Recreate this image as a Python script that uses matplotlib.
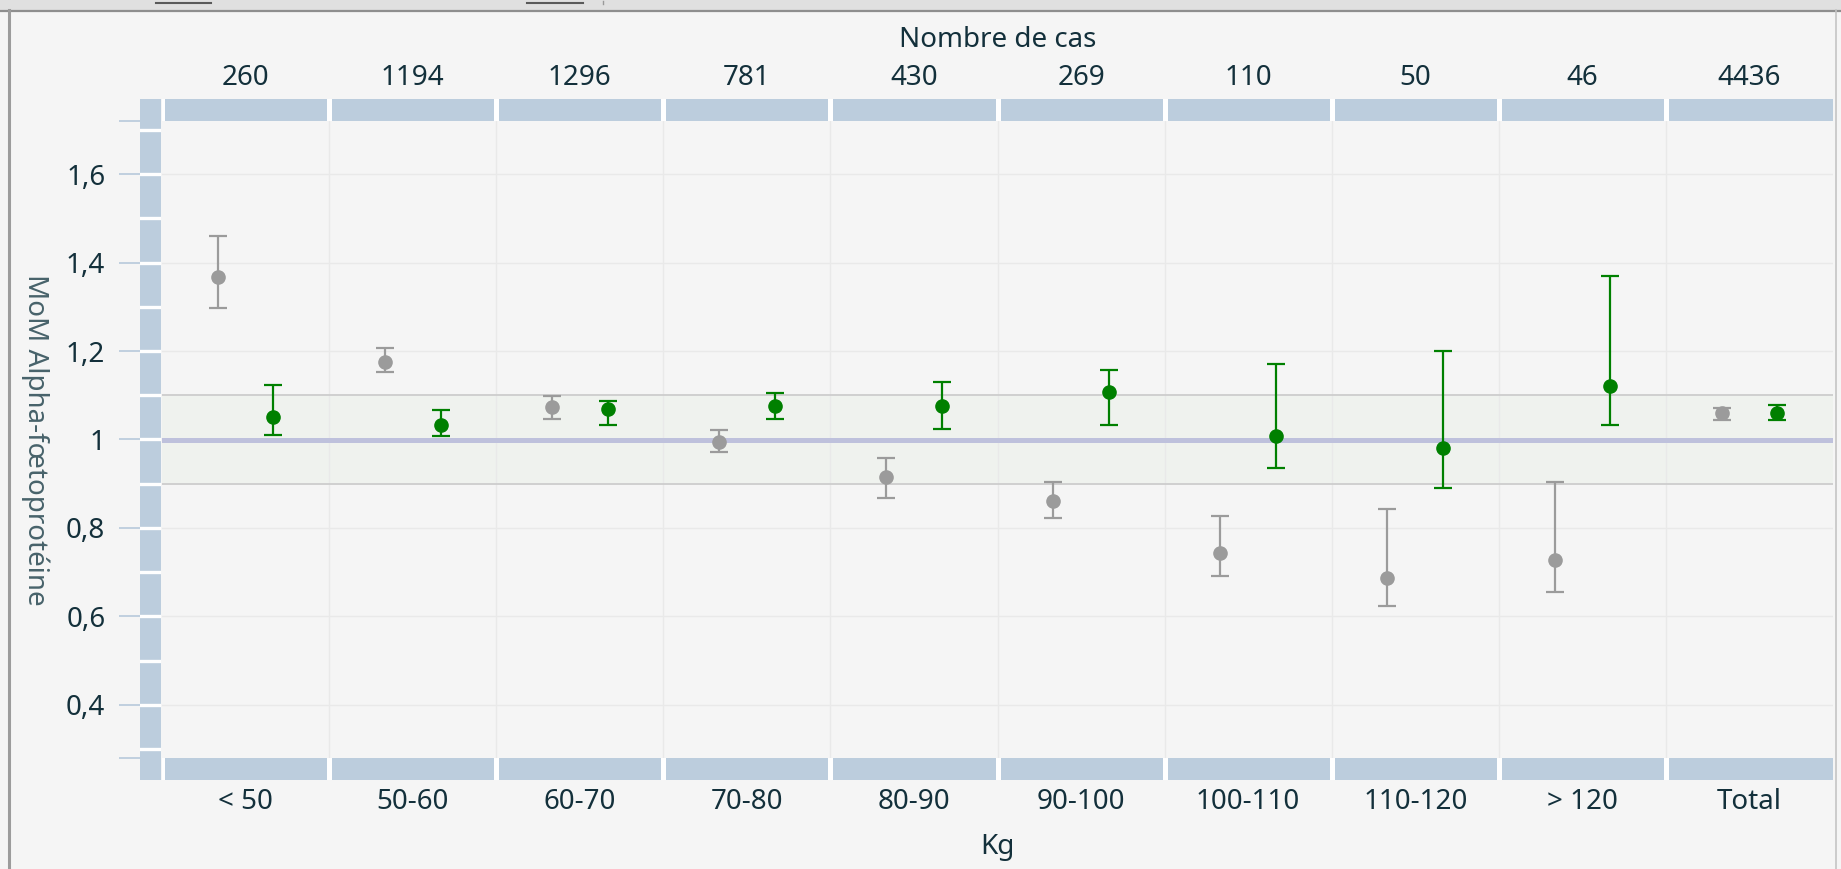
import matplotlib
matplotlib.use("Agg")
import matplotlib.pyplot as plt
from matplotlib.ticker import FuncFormatter, FixedLocator
from matplotlib.patches import Rectangle
from matplotlib.lines import Line2D

# --- data ---
categories = ["< 50", "50-60", "60-70", "70-80", "80-90", "90-100",
              "100-110", "110-120", "> 120", "Total"]
case_counts = ["260", "1194", "1296", "781", "430", "269", "110", "50", "46", "4436"]

gray_mid = [1.367, 1.176, 1.074, 0.995, 0.916, 0.862, 0.743, 0.687, 0.727, 1.059]
gray_low = [1.298, 1.153, 1.047, 0.972, 0.867, 0.822, 0.692, 0.624, 0.656, 1.045]
gray_high = [1.461, 1.207, 1.098, 1.021, 0.958, 0.903, 0.828, 0.843, 0.904, 1.072]

green_mid = [1.051, 1.032, 1.068, 1.076, 1.075, 1.108, 1.007, 0.980, 1.121, 1.060]
green_low = [1.011, 1.008, 1.032, 1.047, 1.024, 1.032, 0.936, 0.891, 1.033, 1.044]
green_high = [1.124, 1.066, 1.087, 1.105, 1.129, 1.156, 1.171, 1.201, 1.370, 1.077]

y_ticks = [0.4, 0.6, 0.8, 1.0, 1.2, 1.4, 1.6]
y_limits = (0.28, 1.72)
band_lo, band_hi, ref_value = 0.9, 1.1, 1.0

# --- style ---
BG = "#f5f5f5"
BAND = "#bccddd"
TEXT = "#13303b"
GRAY = "#9b9b9b"
GREEN = "#008000"
FONT = 20

plt.rcParams["font.family"] = ["Noto Sans", "DejaVu Sans"]

W, H = 1841, 869
fig = plt.figure(figsize=(W / 100, H / 100), dpi=100, facecolor=BG)


def px_axes(x0, y0, x1, y1):
    # add axes from pixel box (top-left origin)
    return fig.add_axes([x0 / W, 1 - y1 / H, (x1 - x0) / W, (y1 - y0) / H])


def px_line(x0, y0, x1, y1, **kw):
    fig.lines.append(Line2D([x0 / W, x1 / W], [1 - y0 / H, 1 - y1 / H],
                            transform=fig.transFigure, **kw))


def comma(v, pos=None):
    return f"{v:g}".replace(".", ",")


# window frame remnants around the chart
fig.patches.append(Rectangle((0, 1 - 10 / H), 1, 10 / H, transform=fig.transFigure,
                             facecolor="#e0e0e0", edgecolor="none"))
px_line(0, 10.5, W, 10.5, color="#8e8e8e", linewidth=1.6)
px_line(8.5, 10, 8.5, H, color="#9c9c9c", linewidth=2.2)
px_line(1836, 10, 1836, H, color="#c4c4c4", linewidth=1.2)
for x0, x1 in [(156, 211), (527, 583)]:
    px_line(x0, 3, x1, 3, color="#5a5a5a", linewidth=1.5)
px_line(603, 1, 603, 4, color="#9a9a9a", linewidth=1.0)

n = len(categories)
xs = list(range(n))

# main plot area
ax = px_axes(162, 121, 1833, 758)
ax.set_facecolor(BG)
ax.set_xlim(0, n)
ax.set_ylim(*y_limits)
for s in ax.spines.values():
    s.set_visible(False)
ax.tick_params(left=False, bottom=False, labelleft=False, labelbottom=False)
ax.xaxis.set_major_locator(FixedLocator(range(1, n)))
ax.yaxis.set_major_locator(FixedLocator(y_ticks))
ax.grid(True, color="#e9e9e9", linewidth=1.0, zorder=0)
ax.set_axisbelow(True)

ax.axhspan(band_lo, band_hi, facecolor="#eff2ee", edgecolor="none", zorder=0.5)
ax.axhline(band_lo, color="#cdcdcd", linewidth=1.3, zorder=0.6)
ax.axhline(band_hi, color="#cdcdcd", linewidth=1.3, zorder=0.6)
ax.axhline(ref_value, color="#bec1dc", linewidth=3.6, zorder=0.7)

gray_x = [i + 1 / 3 for i in xs]
green_x = [i + 2 / 3 for i in xs]
gray_err = [[m - lo for m, lo in zip(gray_mid, gray_low)],
            [hi - m for m, hi in zip(gray_mid, gray_high)]]
green_err = [[m - lo for m, lo in zip(green_mid, green_low)],
             [hi - m for m, hi in zip(green_mid, green_high)]]

for x, y, err, c in [(gray_x, gray_mid, gray_err, GRAY), (green_x, green_mid, green_err, GREEN)]:
    ax.errorbar(x, y, yerr=err, fmt="o", color=c, ecolor=c, markersize=9.5,
                elinewidth=1.6, capsize=6.5, capthick=1.6, zorder=3)

# top band with case counts
top = px_axes(162, 99, 1833, 121)
top.set_facecolor(BAND)
top.set_xlim(0, n)
top.set_ylim(0, 1)
for s in top.spines.values():
    s.set_visible(False)
for b in range(0, n):
    top.axvline(b, color="white", linewidth=3.6)
top.set_yticks([])
top.set_xticks([i + 0.5 for i in xs])
top.set_xticklabels(case_counts, fontsize=FONT, color=TEXT)
top.tick_params(axis="x", length=0, top=True, bottom=False, labeltop=True,
                labelbottom=False, pad=5)
top.xaxis.set_label_position("top")
top.set_xlabel("Nombre de cas", fontsize=FONT, color=TEXT, labelpad=12)

# bottom band with weight classes
bot = px_axes(162, 758, 1833, 780)
bot.set_facecolor(BAND)
bot.set_xlim(0, n)
bot.set_ylim(0, 1)
for s in bot.spines.values():
    s.set_visible(False)
for b in range(0, n):
    bot.axvline(b, color="white", linewidth=3.6)
bot.set_yticks([])
bot.set_xticks([i + 0.5 for i in xs])
bot.set_xticklabels(categories, fontsize=FONT, color=TEXT)
bot.tick_params(axis="x", length=0, pad=6)
bot.set_xlabel("Kg", fontsize=FONT, color=TEXT, labelpad=12)

# left band, reaching into the corners
per_px = (y_limits[1] - y_limits[0]) / (758 - 121)
left = px_axes(140, 99, 161, 780)
left.set_facecolor(BAND)
left.set_xlim(0, 1)
left.set_ylim(y_limits[0] - 22 * per_px, y_limits[1] + 22 * per_px)
for s in left.spines.values():
    s.set_visible(False)
for k in range(3, 18):
    left.axhline(k / 10, color="white", linewidth=2.4)
left.set_xticks([])
left.yaxis.set_major_locator(FixedLocator(y_ticks))
left.yaxis.set_minor_locator(FixedLocator(list(y_limits)))
left.yaxis.set_major_formatter(FuncFormatter(comma))
left.tick_params(axis="y", which="both", length=15, width=1.3, color=BAND,
                 labelsize=FONT, labelcolor=TEXT, pad=10)

fig.text(35 / W, 1 - 439.5 / H, "MoM Alpha-fœtoprotéine", rotation=-90,
         ha="center", va="center", fontsize=FONT, color="#47626a")

fig.savefig("out.png", dpi=100, facecolor=BG)
